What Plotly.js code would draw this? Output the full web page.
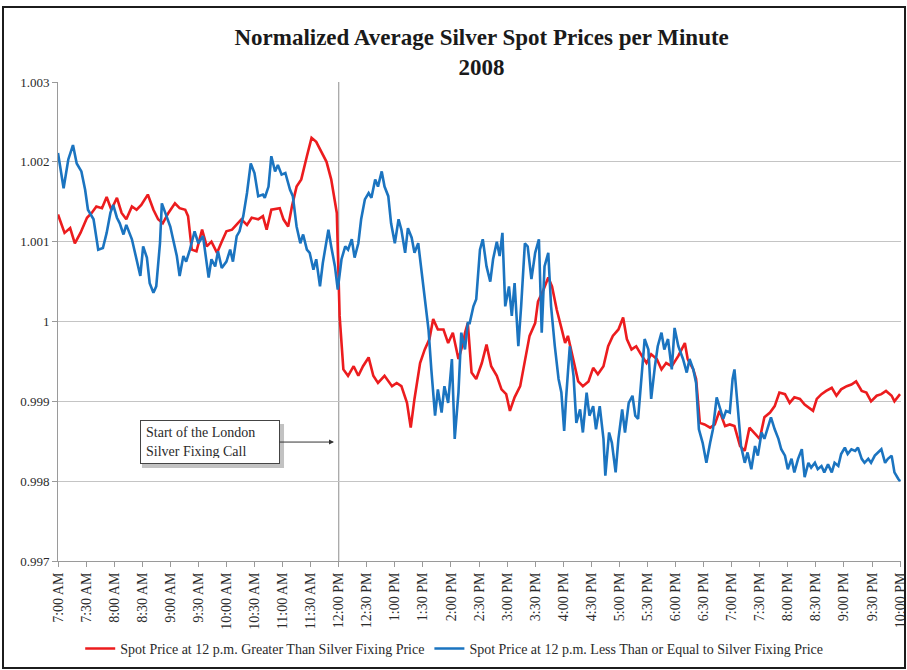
<!DOCTYPE html>
<html>
<head>
<meta charset="utf-8">
<script src="https://cdn.plot.ly/plotly-3.0.1.min.js"></script>
<style>
  html, body { margin: 0; padding: 0; background: #ffffff; }
  #wrap { position: relative; width: 907px; height: 670px; }
  #chart { position: absolute; left: 0; top: 0; width: 907px; height: 670px; }
  #frame { position: absolute; left: 2px; top: 6px; width: 900px; height: 659px;
           border: 2px solid #1c1c1c; pointer-events: none; }
</style>
</head>
<body>
<div id="wrap">
  <div id="chart"></div>
  <div id="frame"></div>
</div>
<script>
// Minutes after 7:00 AM
const tickMinutes = [0,30,60,90,120,150,180,210,240,270,300,330,360,390,420,450,480,510,540,570,600,630,660,690,720,750,780,810,840,870,900];
const tickLabels = ["7:00 AM","7:30 AM","8:00 AM","8:30 AM","9:00 AM","9:30 AM","10:00 AM","10:30 AM","11:00 AM","11:30 AM","12:00 PM","12:30 PM","1:00 PM","1:30 PM","2:00 PM","2:30 PM","3:00 PM","3:30 PM","4:00 PM","4:30 PM","5:00 PM","5:30 PM","6:00 PM","6:30 PM","7:00 PM","7:30 PM","8:00 PM","8:30 PM","9:00 PM","9:30 PM","10:00 PM"];

const seriesNames = ["Spot Price at 12 p.m. Greater Than Silver Fixing Price",
                     "Spot Price at 12 p.m. Less Than or Equal to Silver Fixing Price"];

const redMin = [0,7,13,18,24,31,36,41,47,52,57,63,68,73,79,84,89,96,102,107,112,118,125,130,136,139,143,148,154,159,164,170,175,180,186,191,196,202,207,214,219,223,228,237,241,246,250,255,260,266,271,276,282,287,292,298,301,305,310,316,321,326,332,337,342,349,357,362,367,373,377,381,387,392,397,401,406,412,417,422,428,433,435,438,442,447,453,458,463,469,474,479,483,488,494,499,504,510,513,519,524,528,533,538,542,545,551,556,561,567,572,577,583,588,593,599,604,608,613,618,624,629,634,640,645,650,656,663,670,673,679,682,686,691,697,702,707,713,718,723,729,734,739,745,750,755,761,766,771,777,782,787,793,798,803,807,811,816,821,827,832,837,843,848,853,859,864,869,875,880,885,891,894,900];
const redVal = [1.00134,1.00111,1.00117,1.00098,1.00111,1.0013,1.00136,1.00144,1.00142,1.00156,1.0014,1.00155,1.00136,1.00128,1.00144,1.0014,1.00146,1.00159,1.0014,1.00128,1.00123,1.00136,1.00148,1.00142,1.0014,1.00132,1.0009,1.00088,1.00115,1.00094,1.001,1.00086,1.001,1.00113,1.00115,1.00121,1.00128,1.00121,1.0013,1.00128,1.00132,1.00115,1.0014,1.00142,1.00128,1.00119,1.00144,1.00169,1.00178,1.00207,1.0023,1.00225,1.00211,1.002,1.00178,1.00136,1.00007,0.9994,0.99932,0.99944,0.99932,0.99944,0.99955,0.99932,0.99923,0.99932,0.99919,0.99923,0.99919,0.99898,0.99867,0.99903,0.99948,0.99965,0.99978,1.00003,0.9999,0.9999,0.99973,0.99986,0.99953,0.99973,0.99986,0.99998,0.99936,0.99928,0.99948,0.99971,0.99944,0.99932,0.99915,0.99909,0.99888,0.99905,0.99919,0.99953,0.99982,0.99998,1.00025,1.0004,1.00055,1.00044,1.00015,0.99992,0.99973,0.99982,0.99953,0.99925,0.99919,0.99925,0.99942,0.99934,0.99944,0.99969,0.99982,0.9999,1.00005,0.99978,0.99965,0.99969,0.99957,0.99948,0.99959,0.99953,0.9994,0.99948,0.99944,0.99957,0.99973,0.99953,0.9994,0.99928,0.99873,0.99871,0.99867,0.99871,0.99888,0.99869,0.99871,0.99869,0.99844,0.99838,0.99867,0.99859,0.99853,0.9988,0.99886,0.99894,0.99911,0.99909,0.99898,0.99905,0.99903,0.99896,0.99892,0.99888,0.99903,0.99909,0.99913,0.99917,0.99907,0.99915,0.99919,0.99921,0.99925,0.99913,0.99911,0.999,0.99907,0.99909,0.99913,0.99907,0.999,0.99909];

const blueMin = [0,6,11,16,20,25,29,32,38,43,48,52,56,59,63,66,70,73,79,84,88,91,95,98,102,105,109,111,116,120,123,127,130,134,137,141,146,150,155,161,164,168,171,175,180,184,187,191,194,198,202,206,210,214,219,221,225,228,232,235,239,243,248,251,255,259,262,266,269,273,276,280,283,289,292,296,299,303,307,310,314,317,321,324,328,332,335,339,342,346,349,353,356,360,364,367,371,374,378,381,385,389,392,396,399,403,406,410,413,417,421,424,428,431,435,438,440,444,447,451,454,458,462,465,469,472,475,478,482,485,488,492,495,499,502,506,510,514,517,520,524,527,531,535,538,541,543,547,551,554,558,561,565,568,572,575,579,583,585,589,592,596,599,603,606,610,614,617,620,624,627,631,634,638,641,645,648,652,656,659,663,668,672,675,679,682,685,689,693,697,700,704,707,711,714,718,721,723,727,730,734,737,741,745,748,752,755,759,762,766,770,773,777,780,784,787,791,795,798,802,805,809,812,816,819,823,827,830,834,837,841,844,848,852,855,859,862,866,869,873,876,880,884,887,891,894,898,900];
const blueVal = [1.00211,1.00167,1.00203,1.00221,1.00198,1.00188,1.00165,1.0014,1.00128,1.0009,1.00092,1.00111,1.00136,1.00146,1.0013,1.00123,1.00109,1.00121,1.00103,1.00075,1.00057,1.00094,1.0008,1.00048,1.00036,1.00044,1.00098,1.00148,1.00132,1.00119,1.00103,1.00082,1.00057,1.00082,1.00075,1.0009,1.00113,1.00098,1.00107,1.00055,1.00078,1.00069,1.00088,1.00067,1.00075,1.0009,1.00075,1.00107,1.00113,1.00132,1.00161,1.00198,1.00186,1.00157,1.00159,1.00155,1.00169,1.00207,1.00188,1.00196,1.00184,1.00186,1.00165,1.00157,1.00119,1.00098,1.00109,1.0009,1.00086,1.00065,1.00078,1.00044,1.00073,1.00115,1.00094,1.00069,1.0004,1.00078,1.00094,1.0009,1.00103,1.0008,1.00098,1.00128,1.00153,1.00161,1.00155,1.00178,1.00169,1.00188,1.00169,1.00157,1.00123,1.00098,1.00128,1.00115,1.00086,1.00117,1.00105,1.00086,1.00098,1.00057,1.00028,0.9999,0.9994,0.99882,0.99915,0.99886,0.99919,0.99898,0.99953,0.99853,0.99911,0.99986,0.99965,0.99998,0.99998,1.00019,1.00028,1.0009,1.00103,1.00069,1.0005,1.00078,1.001,1.00082,1.00111,1.00019,1.00044,1.00007,1.00048,0.99969,1.00019,1.00098,1.00094,1.00053,1.00086,1.00103,0.99986,1.00069,1.00086,1.00019,0.99969,0.99928,0.99911,0.99863,0.99903,0.99969,0.99932,0.99873,0.9989,0.99861,0.99911,0.99882,0.99894,0.99865,0.99894,0.99853,0.99807,0.99861,0.99848,0.99811,0.99853,0.9989,0.99861,0.99898,0.99907,0.99882,0.99878,0.9994,0.99978,0.99965,0.99903,0.99944,0.99969,0.99986,0.99965,0.99978,0.9994,0.99992,0.99969,0.99953,0.99936,0.99953,0.9994,0.99923,0.99865,0.99848,0.99823,0.99848,0.99865,0.99905,0.99894,0.99878,0.99888,0.99886,0.99928,0.9994,0.99886,0.99844,0.99823,0.99836,0.99815,0.99844,0.99832,0.99861,0.99853,0.99869,0.9988,0.99865,0.99853,0.9984,0.99832,0.99815,0.99828,0.99811,0.99828,0.9984,0.99805,0.99823,0.99817,0.99823,0.99815,0.99819,0.99811,0.99821,0.99811,0.99823,0.99819,0.99834,0.99842,0.99834,0.9984,0.99838,0.99842,0.99828,0.99823,0.99828,0.99823,0.99832,0.99836,0.9984,0.99823,0.99828,0.99832,0.99811,0.99803,0.998];

const fixingMinute = 300; // 12:00 PM
const annotationText = "Start of the London<br>Silver Fixing Call";
const chartTitle = "<b>Normalized Average Silver Spot Prices per Minute</b><br><b>2008</b>";

const serif = "Liberation Serif, Times New Roman, serif";
const arrowTipX = 295, arrowTipY = 0.99849;

const traces = [
  { x: redMin, y: redVal, type: "scatter", mode: "lines", name: seriesNames[0],
    line: { color: "#ec1c1e", width: 2.6 } },
  { x: blueMin, y: blueVal, type: "scatter", mode: "lines", name: seriesNames[1],
    line: { color: "#1b74c0", width: 2.6 } }
];

const layout = {
  width: 907, height: 670,
  margin: { l: 58, r: 6, t: 82, b: 108 },
  paper_bgcolor: "#ffffff", plot_bgcolor: "#ffffff",
  font: { family: serif, color: "#2a2a2a", size: 12 },
  title: { text: chartTitle, x: 0.531, xref: "container", y: 0.933, yref: "container",
           xanchor: "center", yanchor: "middle",
           font: { family: serif, size: 23, color: "#1a1a1a" } },
  showlegend: true,
  legend: { orientation: "h", x: 0.47, xanchor: "center", y: -0.181, yanchor: "middle",
            font: { family: serif, size: 14, color: "#2a2a2a" }, traceorder: "normal",
            itemwidth: 30, tracegroupgap: 0 },
  xaxis: {
    range: [0, 901], tickmode: "array", tickvals: tickMinutes, ticktext: tickLabels,
    tickangle: -90, ticks: "outside", ticklen: 5, tickcolor: "#9a9a9a",
    ticklabeloverflow: "allow",
    showgrid: false, zeroline: false, showline: true, linecolor: "#9a9a9a", linewidth: 1,
    tickfont: { family: serif, size: 14, color: "#2a2a2a" }, fixedrange: true
  },
  yaxis: {
    range: [0.997, 1.003], tickmode: "array",
    tickvals: [0.997, 0.998, 0.999, 1, 1.001, 1.002, 1.003],
    ticktext: ["0.997", "0.998", "0.999", "1", "1.001", "1.002", "1.003"],
    ticks: "outside", ticklen: 5, tickcolor: "#9a9a9a",
    showgrid: true, gridcolor: "#c4c4c4", gridwidth: 1.2, zeroline: false,
    showline: true, linecolor: "#9a9a9a", linewidth: 1,
    tickfont: { family: serif, size: 13, color: "#2a2a2a" }, fixedrange: true
  },
  shapes: [
    { type: "line", xref: "x", yref: "paper", x0: fixingMinute, x1: fixingMinute, y0: 0, y1: 1,
      line: { color: "#a8a8a8", width: 1.3 }, layer: "below" },
    // drop shadow of the note box
    { type: "rect", xref: "x", yref: "y", xsizemode: "pixel", ysizemode: "pixel",
      xanchor: arrowTipX, yanchor: arrowTipY, x0: -192, x1: -50, y0: -26, y1: 18,
      fillcolor: "rgba(120,120,120,0.45)", line: { width: 0 }, layer: "above" }
  ],
  annotations: [
    { x: arrowTipX, y: arrowTipY, xref: "x", yref: "y", text: annotationText, align: "left",
      showarrow: true, axref: "pixel", ayref: "pixel", ax: -124, ay: 0,
      arrowhead: 2, arrowsize: 1, arrowwidth: 1, arrowcolor: "#333333",
      bgcolor: "#ffffff", bordercolor: "#444444", borderwidth: 1, borderpad: 5,
      width: 128, height: 32,
      font: { family: serif, size: 14, color: "#2a2a2a" } }
  ]
};

Plotly.newPlot("chart", traces, layout, { displayModeBar: false, staticPlot: true });
</script>
</body>
</html>
